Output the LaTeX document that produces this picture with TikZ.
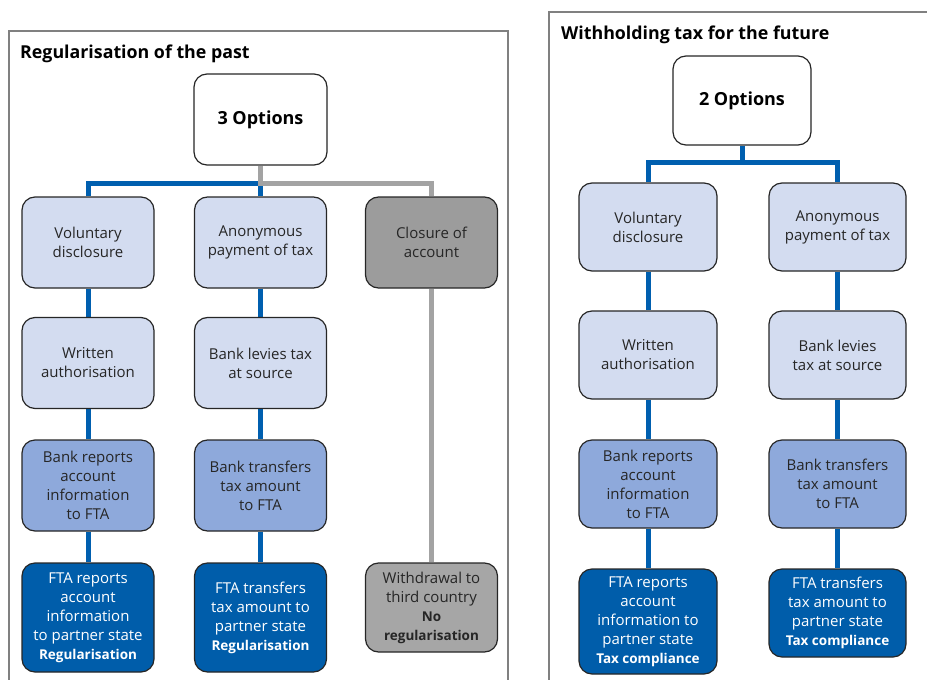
\documentclass[tikz,border=0pt]{standalone}
\usepackage{fontspec}
\setmainfont{Open Sans}
\usetikzlibrary{backgrounds}

\definecolor{lineblue}{HTML}{005FAF}
\definecolor{boxpale}{HTML}{D3DCF0}
\definecolor{boxmid}{HTML}{8EA9DB}
\definecolor{boxdark}{HTML}{005DAA}
\definecolor{boxgrey}{HTML}{9C9C9C}
\definecolor{boxgreyl}{HTML}{A6A6A6}
\definecolor{linegrey}{HTML}{A3A3A3}
\definecolor{framegrey}{HTML}{808080}
\definecolor{txt}{HTML}{262626}

\newcommand{\boldline}[1]{{\fontsize{13.5}{17}\selectfont\bfseries #1}}

\begin{document}
\begin{tikzpicture}[x=1pt, y=-1pt,
    box/.style={draw=txt, line width=1.2pt, rounded corners=13pt, minimum width=132pt,
        minimum height=91pt, inner sep=2pt, align=center, text=txt,
        font=\fontsize{15}{19}\selectfont},
    pale/.style={box, fill=boxpale},
    mid/.style={box, fill=boxmid},
    dark/.style={box, fill=boxdark, text=white},
    grey/.style={box, fill=boxgrey},
    opt/.style={box, fill=white, text=black, font=\fontsize{18}{22}\selectfont\bfseries},
    head/.style={anchor=base west, inner sep=0pt, text=black, font=\fontsize{17.8}{20}\selectfont\bfseries},
    blueline/.style={lineblue, line width=5pt},
    greyline/.style={linegrey, line width=5pt},
    frame/.style={framegrey, line width=1.5pt}]
    \useasboundingbox (0,0) rectangle (927,680);

    % regularisation of the past
    \draw[frame] (9,680) |- (508,31) -- (508,680);
    \node[head] (ltitle) at (20,58) {Regularisation of the past};
    \node[opt, minimum width=133pt] (three) at (260.5,119.5) {3 Options};
    \node[pale] (vd) at (88,242.5) {Voluntary\\disclosure};
    \node[pale] (ap) at (260.5,242.5) {Anonymous\\payment of tax};
    \node[grey] (cl) at (431.5,242.5) {Closure of\\account};
    \node[pale] (wa) at (88,363) {Written\\authorisation};
    \node[pale] (bl) at (260.5,363) {Bank levies tax\\at source};
    \node[mid] (br) at (88,485.5) {Bank reports\\account\\information\\to FTA};
    \node[mid] (bt) at (260.5,485.5) {Bank transfers\\tax amount\\to FTA};
    \node[dark, minimum height=109pt] (fr) at (88,617.5)
        {FTA reports\\account\\information\\to partner state\\\boldline{Regularisation}};
    \node[dark, minimum height=109pt] (ft) at (260.5,617.5)
        {FTA transfers\\tax amount to\\partner state\\\boldline{Regularisation}};
    \node[box, fill=boxgreyl, minimum height=89pt] (wd) at (431.5,607.5)
        {Withdrawal to\\third country\\\boldline{No}\\\boldline{regularisation}};
    \coordinate (lbus) at (260.5,183);

    % withholding tax for the future
    \draw[frame] (549,680) |- (927,12);
    \node[head] (rtitle) at (561,39) {Withholding tax for the future};
    \node[opt, minimum width=138pt, minimum height=89pt] (two) at (742,100.5) {2 Options};
    \node[pale, minimum width=138pt, minimum height=88pt] (rvd) at (648,227) {Voluntary\\disclosure};
    \node[pale, minimum width=137pt, minimum height=88pt] (rap) at (837.5,227) {Anonymous\\payment of tax};
    \node[pale, minimum width=138pt, minimum height=88pt] (rwa) at (648,355) {Written\\authorisation};
    \node[pale, minimum width=137pt, minimum height=88pt] (rbl) at (837.5,355) {Bank levies\\tax at source};
    \node[mid, minimum width=138pt, minimum height=88pt] (rbr) at (648,484) {Bank reports\\account\\information\\to FTA};
    \node[mid, minimum width=137pt, minimum height=88pt] (rbt) at (837.5,484) {Bank transfers\\tax amount\\to FTA};
    \node[dark, minimum width=138pt, minimum height=105pt] (rfr) at (648,621.5)
        {FTA reports\\account\\information to\\partner state\\\boldline{Tax compliance}};
    \node[dark, minimum width=137pt, minimum height=88pt] (rft) at (837.5,613)
        {FTA transfers\\tax amount to\\partner state\\\boldline{Tax compliance}};
    \coordinate (rbus) at (742,162);

    \begin{scope}[on background layer]
        \draw[blueline] (vd.north) |- (lbus) -- (ap.north);
        \draw[greyline] (three.south) -- (lbus) -| (cl.north);
        \draw[blueline] (vd) -- (wa) -- (br) -- (fr);
        \draw[blueline] (ap) -- (bl) -- (bt) -- (ft);
        \draw[greyline] (cl) -- (wd);
        \draw[blueline] (two.south) -- (rbus);
        \draw[blueline] (rvd.north) |- (rbus) -| (rap.north);
        \draw[blueline] (rvd) -- (rwa) -- (rbr) -- (rfr);
        \draw[blueline] (rap) -- (rbl) -- (rbt) -- (rft);
    \end{scope}
\end{tikzpicture}
\end{document}
